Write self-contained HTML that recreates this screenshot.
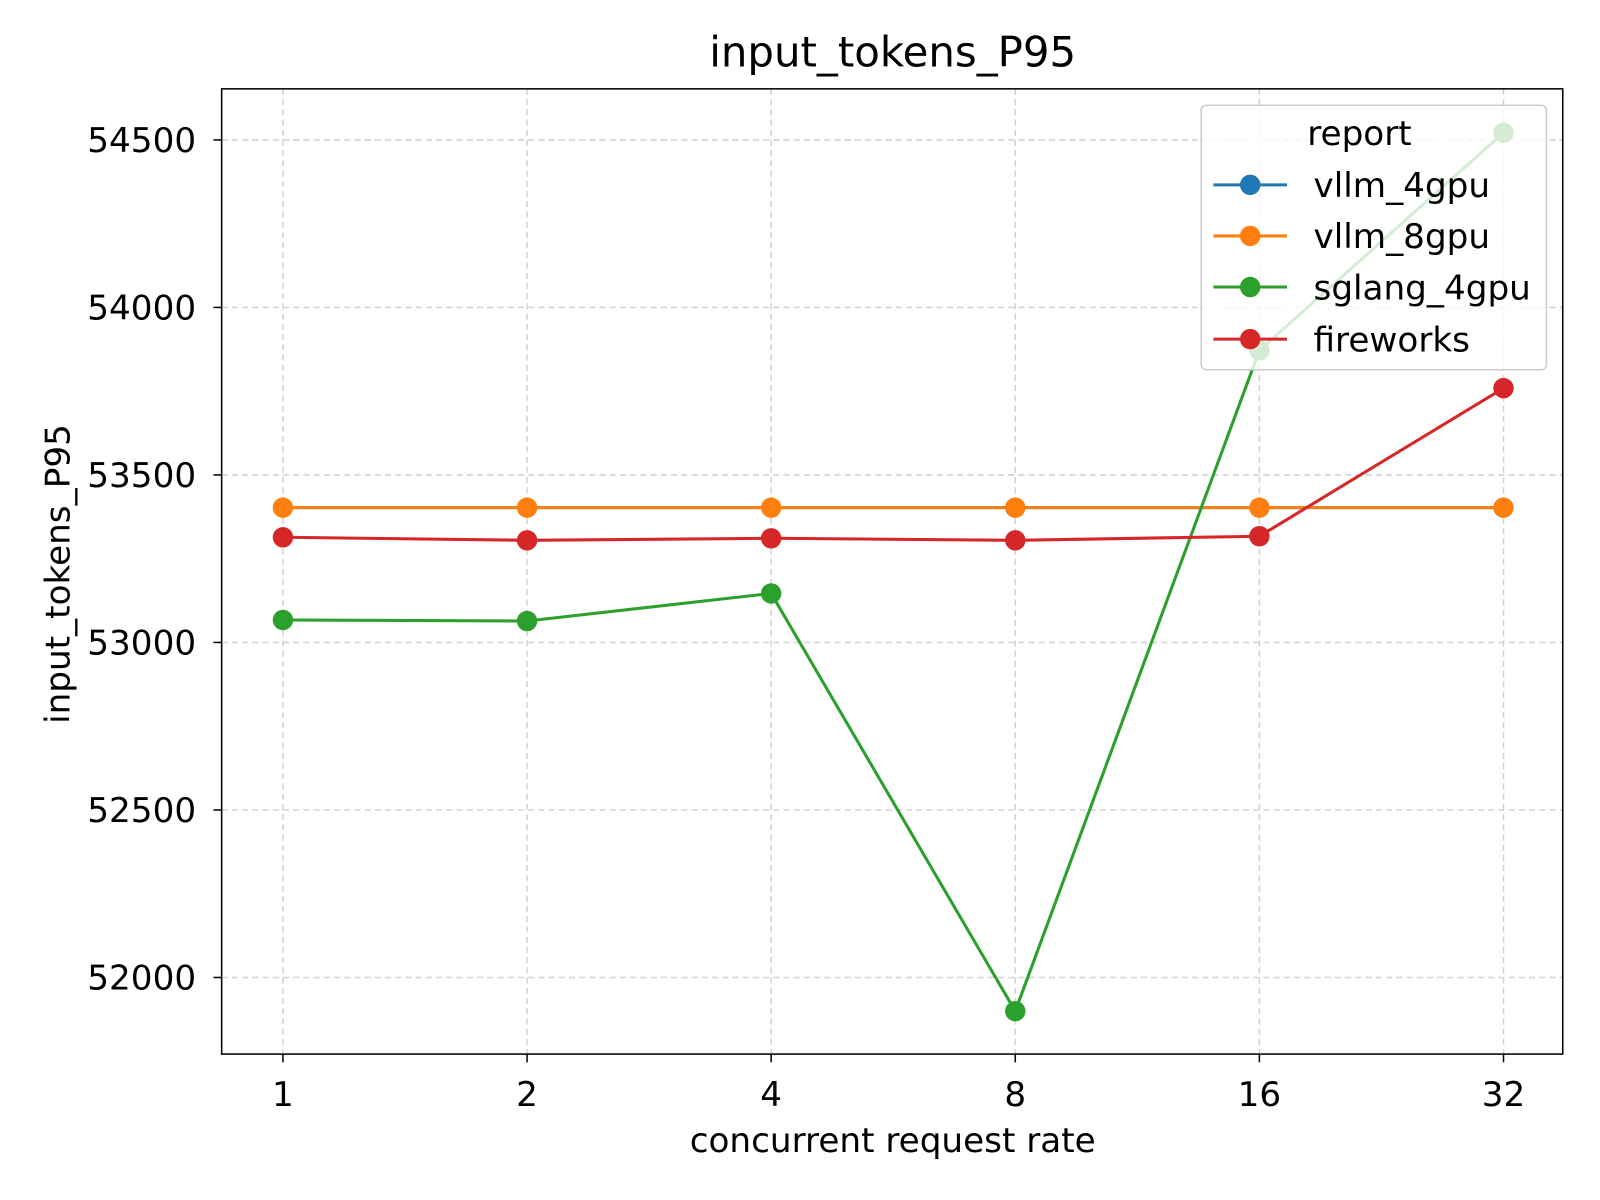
<!DOCTYPE html>
<html><head><meta charset="utf-8"><style>body{margin:0;background:#fff}svg{display:block}text{font-family:"DejaVu Sans","Liberation Sans",sans-serif;fill:#000}</style></head>
<body>
<svg width="1600" height="1200" viewBox="0 0 1600 1200" xmlns="http://www.w3.org/2000/svg">
<rect width="1600" height="1200" fill="#fff"/>
<g transform="scale(1.0214)">
<g stroke="#d3d3d3" stroke-width="1.5" stroke-dasharray="6,4">
<line x1="277" y1="87" x2="277" y2="1032"/><line x1="516" y1="87" x2="516" y2="1032"/><line x1="755" y1="87" x2="755" y2="1032"/><line x1="994" y1="87" x2="994" y2="1032"/><line x1="1233" y1="87" x2="1233" y2="1032"/><line x1="1472" y1="87" x2="1472" y2="1032"/>
<line x1="217" y1="137" x2="1530" y2="137"/><line x1="217" y1="301" x2="1530" y2="301"/><line x1="217" y1="465" x2="1530" y2="465"/><line x1="217" y1="629" x2="1530" y2="629"/><line x1="217" y1="793" x2="1530" y2="793"/><line x1="217" y1="957" x2="1530" y2="957"/>
</g>
<g stroke="#000" stroke-width="1.5">
<line x1="277" y1="1032" x2="277" y2="1040"/><line x1="516" y1="1032" x2="516" y2="1040"/><line x1="755" y1="1032" x2="755" y2="1040"/><line x1="994" y1="1032" x2="994" y2="1040"/><line x1="1233" y1="1032" x2="1233" y2="1040"/><line x1="1472" y1="1032" x2="1472" y2="1040"/>
<line x1="209" y1="137" x2="217" y2="137"/><line x1="209" y1="301" x2="217" y2="301"/><line x1="209" y1="465" x2="217" y2="465"/><line x1="209" y1="629" x2="217" y2="629"/><line x1="209" y1="793" x2="217" y2="793"/><line x1="209" y1="957" x2="217" y2="957"/>
</g>
<g font-size="33.5" text-anchor="middle">
<text x="277" y="1083">1</text><text x="516" y="1083">2</text><text x="755" y="1083">4</text><text x="994" y="1083">8</text><text x="1233" y="1083">16</text><text x="1472" y="1083">32</text>
<text x="874" y="1128">concurrent request rate</text>
<text x="874" y="65" font-size="41">input_tokens_P95</text>
</g>
<g font-size="33.5" text-anchor="end">
<text x="192" y="149">54500</text><text x="192" y="313">54000</text><text x="192" y="477">53500</text><text x="192" y="641">53000</text><text x="192" y="805">52500</text><text x="192" y="969">52000</text>
</g>
<text transform="translate(68,562) rotate(-90)" font-size="33.5" text-anchor="middle">input_tokens_P95</text>
<g stroke-width="3" fill="none">
<polyline stroke="#1f77b4" points="277,497 516,497 755,497 994,497 1233,497 1472,497"/>
<polyline stroke="#ff7f0e" points="277,497 516,497 755,497 994,497 1233,497 1472,497"/>
<polyline stroke="#2ca02c" points="277,607 516,608 755,581 994,990 1233,343 1472,130"/>
<polyline stroke="#d62728" points="277,526 516,529 755,527 994,529 1233,525 1472,380"/>
</g>
<g fill="#ff7f0e"><circle cx="277" cy="497" r="10"/><circle cx="516" cy="497" r="10"/><circle cx="755" cy="497" r="10"/><circle cx="994" cy="497" r="10"/><circle cx="1233" cy="497" r="10"/><circle cx="1472" cy="497" r="10"/></g>
<g fill="#2ca02c"><circle cx="277" cy="607" r="10"/><circle cx="516" cy="608" r="10"/><circle cx="755" cy="581" r="10"/><circle cx="994" cy="990" r="10"/><circle cx="1233" cy="343" r="10"/><circle cx="1472" cy="130" r="10"/></g>
<g fill="#d62728"><circle cx="277" cy="526" r="10"/><circle cx="516" cy="529" r="10"/><circle cx="755" cy="527" r="10"/><circle cx="994" cy="529" r="10"/><circle cx="1233" cy="525" r="10"/><circle cx="1472" cy="380" r="10"/></g>
<rect x="217" y="87" width="1313" height="945" fill="none" stroke="#000" stroke-width="1.5"/>
<rect x="1176" y="103" width="338" height="259" rx="5" fill="#fff" fill-opacity="0.8" stroke="#ccc" stroke-width="1.5"/>
<text x="1331" y="142" font-size="33.5" text-anchor="middle">report</text>
<g stroke-width="3">
<line x1="1188" y1="181" x2="1260" y2="181" stroke="#1f77b4"/><circle cx="1224" cy="181" r="10" fill="#1f77b4"/>
<line x1="1188" y1="231" x2="1260" y2="231" stroke="#ff7f0e"/><circle cx="1224" cy="231" r="10" fill="#ff7f0e"/>
<line x1="1188" y1="281" x2="1260" y2="281" stroke="#2ca02c"/><circle cx="1224" cy="281" r="10" fill="#2ca02c"/>
<line x1="1188" y1="332" x2="1260" y2="332" stroke="#d62728"/><circle cx="1224" cy="332" r="10" fill="#d62728"/>
</g>
<g font-size="33.5"><text x="1286" y="193">vllm_4gpu</text><text x="1286" y="243">vllm_8gpu</text><text x="1286" y="293">sglang_4gpu</text><text x="1286" y="344">fireworks</text></g>
</g>
</svg>
</body></html>
